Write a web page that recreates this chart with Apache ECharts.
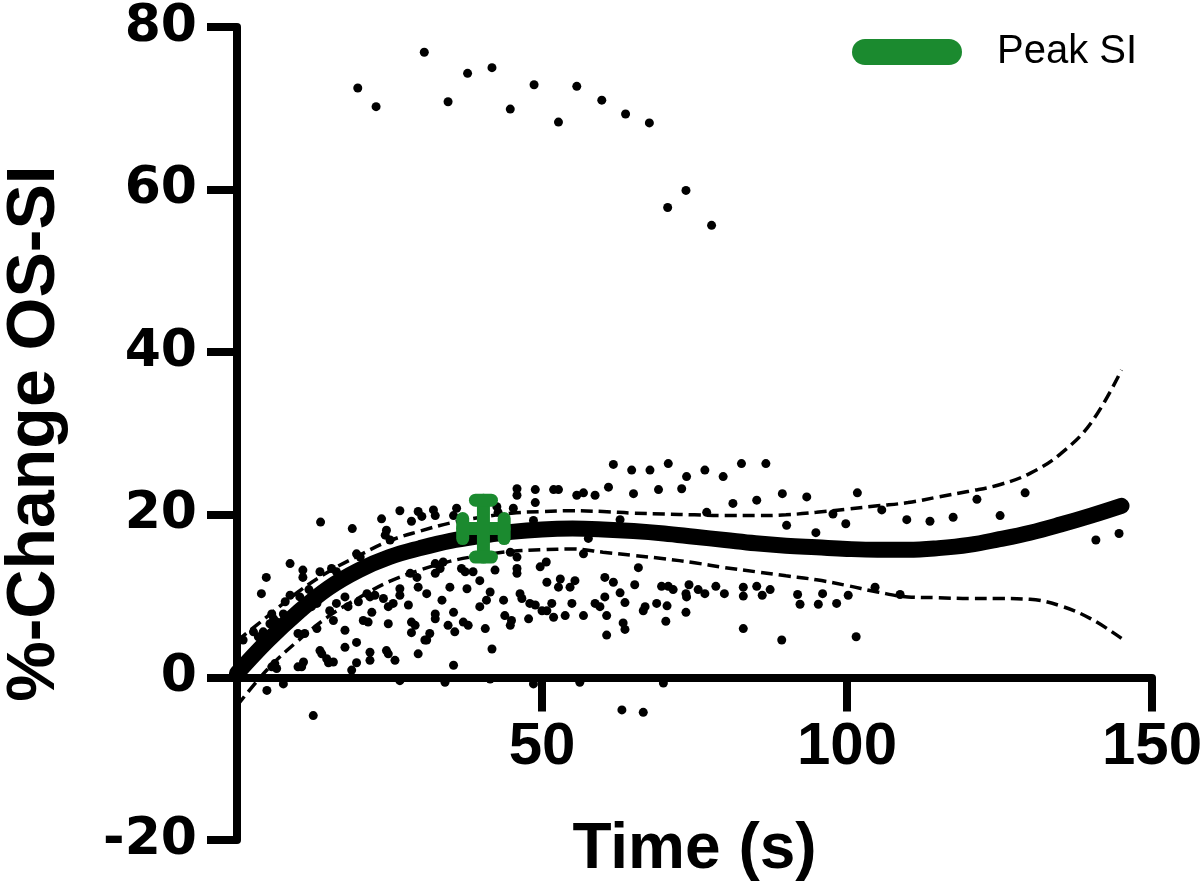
<!DOCTYPE html>
<html>
<head>
<meta charset="utf-8">
<script src="https://cdn.jsdelivr.net/npm/echarts@6/dist/echarts.min.js"></script>
<style>html,body{margin:0;padding:0;background:#fff;}#chart{width:1200px;height:886px;}</style>
</head>
<body>
<div id="chart"></div>
<script>
// ---- data ----
const xTicks = [0, 50, 100, 150];
const yTicks = [-20, 0, 20, 40, 60, 80];

const fitTime  = [0,5,10,15,20,25,30,35,40,45,50,55,60,65,70,75,80,85,90,95,100,105,110,115,120,125,130,135,140,145];
const fitMean  = [0.5,4.5,8,11,13.2,14.8,15.9,16.8,17.4,17.9,18.2,18.3,18.2,18.0,17.7,17.3,16.9,16.5,16.2,16.0,15.8,15.7,15.7,15.9,16.3,17.0,17.8,18.8,19.9,21.1];
const fitUpper = [4.5,7.5,10.5,13,15,16.8,18,19,19.7,20.2,20.4,20.5,20.4,20.2,20.1,20,19.9,19.9,20,20.3,20.7,21.1,21.5,22.2,22.9,23.7,25.1,27.5,31.3,37.8];
const fitLower = [-3.5,1,4.5,7.5,9.8,11.8,13.2,14.3,15,15.5,15.7,15.8,15.4,15,14.6,14.1,13.5,13,12.5,12,11.3,10.5,9.9,9.8,9.7,9.7,9.6,8.8,7.2,4.8];

const scatterPoints = [
[13.7,19.1],[18.9,18.3],[23.7,19.5],[26.7,20.5],[28.6,19.2],[29.7,20.4],[30.3,19.8],[24.5,18.1],[24.3,17.5],[25.1,16.9],[19.6,15.2],[20.2,14.8],[8.7,14.0],[4.8,12.3],[4.0,10.3],[10.8,13.2],[10.8,12.3],[13.6,13.0],[15.5,13.4],[16.3,13.0],[11.8,10.8],[8.7,10.1],[7.9,9.3],[10.3,9.9],[11.1,8.9],[5.7,7.8],[6.0,7.2],[6.5,6.8],[5.4,6.6],[2.7,5.6],[3.5,5.0],[4.3,5.6],[1.0,4.6],[7.6,7.8],[8.7,7.4],[12.2,8.7],[13.1,9.1],[15.2,8.2],[16.3,9.1],[17.7,9.9],[18.2,8.7],[19.9,9.3],[21.3,10.3],[21.8,9.9],[22.6,10.1],[22.1,8.0],[20.7,7.0],[21.5,6.8],[24.0,9.7],[25.6,9.1],[24.8,8.7],[26.7,10.1],[26.7,10.9],[28.4,12.8],[29.5,12.3],[29.7,11.1],[28.1,8.9],[15.8,7.0],[17.7,5.8],[13.1,6.0],[11.1,5.4],[10.0,5.4],[19.6,4.3],[17.7,3.7],[24.8,6.6],[28.6,6.8],[29.2,6.4],[28.6,5.5],[31.1,4.6],[29.7,2.9],[24.5,3.3],[24.8,2.9],[25.9,2.1],[21.8,3.1],[21.8,2.1],[19.6,1.8],[13.6,3.3],[13.9,2.9],[14.7,2.3],[15.0,1.8],[15.8,1.9],[10.9,1.9],[10.0,1.3],[10.6,1.3],[6.2,1.7],[6.5,1.1],[5.7,1.3],[7.6,-0.8],[4.9,-1.6],[12.5,-4.7],[18.8,0.9],[26.7,-0.4],
[61.7,26.2],[60.9,23.4],[45.9,23.2],[45.9,22.4],[48.9,23.1],[48.9,21.5],[51.9,23.1],[52.7,23.1],[55.7,22.4],[56.8,22.7],[58.7,22.4],[32.2,20.6],[32.5,19.9],[36.0,20.8],[35.5,19.9],[42.6,21.0],[42.8,20.3],[45.3,20.8],[48.6,19.3],[57.6,17.1],[44.8,15.4],[45.9,14.8],[45.9,13.4],[45.9,12.8],[49.7,13.6],[50.7,14.2],[56.8,15.2],[32.5,14.0],[33.8,14.2],[33.3,13.4],[32.5,12.8],[36.8,13.4],[37.4,13.0],[38.7,13.0],[39.8,11.9],[42.3,13.2],[31.1,10.3],[34.9,11.1],[37.7,10.9],[33.6,9.5],[41.5,10.5],[40.9,9.5],[39.8,8.7],[35.5,8.0],[32.5,7.8],[32.5,7.2],[34.6,6.4],[35.7,5.6],[37.1,6.8],[37.9,6.4],[31.6,5.4],[30.8,4.6],[40.7,6.0],[43.7,9.5],[43.9,7.6],[45.0,7.0],[44.8,6.4],[46.4,10.3],[46.7,9.7],[48.0,9.1],[48.9,8.9],[47.8,7.2],[50.0,8.2],[50.8,8.2],[51.9,7.4],[51.6,9.1],[50.8,11.7],[53.0,12.1],[52.7,11.1],[54.6,11.1],[55.4,11.9],[54.9,9.1],[53.8,7.6],[56.8,7.6],[58.7,9.1],[59.5,8.7],[60.3,9.9],[60.6,7.6],[60.3,12.3],[61.7,11.7],[60.6,5.2],[41.8,3.5],[35.5,1.5],[34.1,-0.6],[41.5,-0.2],[48.6,-0.8],[56.2,-0.6],
[64.7,25.5],[67.7,25.5],[70.7,26.3],[65.0,22.6],[69.1,23.1],[72.9,23.2],[73.7,24.7],[76.7,25.5],[79.7,24.7],[82.7,26.3],[86.7,26.3],[81.3,21.4],[85.2,21.8],[89.4,22.6],[93.4,22.2],[90.1,18.7],[62.8,19.4],[77.0,20.3],[65.8,13.5],[65.2,11.4],[62.8,10.4],[63.6,9.2],[69.6,11.2],[70.7,11.2],[71.5,10.8],[74.1,11.4],[73.6,10.3],[73.7,9.9],[75.6,10.8],[76.7,10.3],[78.5,11.2],[79.9,10.3],[83.0,11.1],[83.0,10.0],[85.2,11.2],[86.1,10.1],[87.4,10.8],[91.9,10.2],[92.3,9.0],[66.9,8.7],[66.6,8.2],[68.8,9.1],[70.5,8.8],[73.6,8.0],[63.3,6.7],[63.6,5.9],[70.3,6.9],[83.0,6.0],[89.3,4.6],[69.9,-0.7],[63.1,-4.0],[66.6,-4.3],
[101.7,22.7],[121.3,21.9],[125.1,19.9],[105.7,20.6],[97.7,20.1],[109.8,19.4],[113.6,19.2],[117.4,19.7],[99.8,18.9],[94.9,17.8],[104.6,11.1],[108.7,10.2],[95.3,9.0],[96.0,10.3],[98.3,9.1],[100.2,10.1],[101.5,5.0],
[129.2,22.7],[140.8,16.9],[144.6,17.7],
[19.8,72.5],[22.8,70.2],[30.7,76.9],[34.6,70.8],[37.8,74.3],[41.8,75.0],[44.8,69.9],[48.7,72.9],[52.7,68.3],[55.7,72.7],[59.8,71.0],[63.7,69.3],[67.6,68.2],[73.6,59.9],[70.6,57.8],[77.8,55.6]
];

const peakTime = [40.4];
const peakValue = [18.3];
const peakTimeErr = [3.4];
const peakValueErr = [3.5];
const peakLabel = 'Peak SI';

// ---- chart ----
const GREEN = '#1b8a2f';
const GRID_TOP = 27, GRID_H = 813;
const chart = echarts.init(document.getElementById('chart'));
const zip = (a, b) => a.map((v, i) => [v, b[i]]);
const yMin = yTicks[0], yMax = yTicks[yTicks.length - 1];
// place x axis at y = 0 by offsetting it up from the grid bottom
const zeroOffset = -GRID_H * (0 - yMin) / (yMax - yMin);

chart.setOption({
  animation: false,
  backgroundColor: '#fff',
  grid: { left: 237, top: GRID_TOP, width: 915, height: GRID_H, containLabel: false, outerBoundsMode: 'none' },
  legend: {
    data: [{ name: peakLabel, icon: 'path://M13,0 H97 A13,13 0 0 1 97,26 H13 A13,13 0 0 1 13,0 Z' }],
    left: 847, top: 27,
    itemWidth: 110, itemHeight: 26,
    textStyle: { fontSize: 40, fontFamily: 'Liberation Sans, Arial, sans-serif', color: '#000', padding: [0, 0, 0, 30] }
  },
  xAxis: {
    type: 'value', min: xTicks[0], max: xTicks[xTicks.length - 1], interval: 50,
    position: 'bottom', offset: zeroOffset,
    axisLine: { onZero: false, lineStyle: { color: '#000', width: 8 } },
    axisTick: { length: 34, lineStyle: { color: '#000', width: 8 } },
    axisLabel: { showMinLabel: false, margin: 40, fontSize: 60, fontWeight: 'bold', fontFamily: 'Liberation Sans, Arial, sans-serif', color: '#000' },
    splitLine: { show: false },
    name: 'Time (s)', nameLocation: 'middle', nameGap: 141,
    nameTextStyle: { fontSize: 64, fontWeight: 'bold', fontFamily: 'Liberation Sans, Arial, sans-serif', color: '#000' }
  },
  yAxis: {
    type: 'value', min: yMin, max: yMax, interval: 20,
    axisLine: { onZero: false, lineStyle: { color: '#000', width: 8 } },
    axisTick: { length: 30, lineStyle: { color: '#000', width: 8 } },
    axisLabel: { margin: 40, fontSize: 52, fontWeight: 'bold', fontFamily: 'DejaVu Sans, sans-serif', color: '#000' },
    splitLine: { show: false },
    name: '%-Change OS-SI', nameLocation: 'middle', nameGap: 168,
    nameTextStyle: { fontSize: 68, fontWeight: 'bold', fontFamily: 'Liberation Sans, Arial, sans-serif', color: '#000' }
  },
  series: [
    {
      type: 'scatter', name: 'data', data: scatterPoints,
      symbolSize: 9, itemStyle: { color: '#000', opacity: 1 }, z: 2
    },
    {
      type: 'line', name: 'upper', data: zip(fitTime, fitUpper), smooth: 0.4,
      showSymbol: false, lineStyle: { color: '#000', width: 3.5, type: [12, 6] }, z: 3
    },
    {
      type: 'line', name: 'lower', data: zip(fitTime, fitLower), smooth: 0.4,
      showSymbol: false, lineStyle: { color: '#000', width: 3.5, type: [12, 6] }, z: 3
    },
    {
      type: 'line', name: 'fit', data: zip(fitTime, fitMean), smooth: 0.4,
      showSymbol: false, lineStyle: { color: '#000', width: 16, cap: 'round' }, z: 4
    },
    {
      type: 'custom', name: peakLabel, z: 5,
      itemStyle: { color: GREEN },
      encode: { x: 0, y: 1 },
      data: peakTime.map((t, i) => [t, peakValue[i], peakTimeErr[i], peakValueErr[i]]),
      renderItem: function (params, api) {
        const cx = api.value(0), cy = api.value(1), ex = api.value(2), ey = api.value(3);
        const l = api.coord([cx - ex, cy]), r = api.coord([cx + ex, cy]);
        const t = api.coord([cx, cy + ey]), b = api.coord([cx, cy - ey]);
        const capW = 8, capH = 10;
        const st = { stroke: GREEN, lineWidth: 13, lineCap: 'round' };
        const seg = (x1, y1, x2, y2) => ({ type: 'line', shape: { x1, y1, x2, y2 }, style: st });
        return {
          type: 'group',
          children: [
            seg(l[0], l[1], r[0], r[1]),
            seg(t[0], t[1], b[0], b[1]),
            seg(l[0], l[1] - capH, l[0], l[1] + capH),
            seg(r[0], r[1] - capH, r[0], r[1] + capH),
            seg(t[0] - capW, t[1], t[0] + capW, t[1]),
            seg(b[0] - capW, b[1], b[0] + capW, b[1])
          ]
        };
      }
    }
  ]
});
</script>
</body>
</html>
